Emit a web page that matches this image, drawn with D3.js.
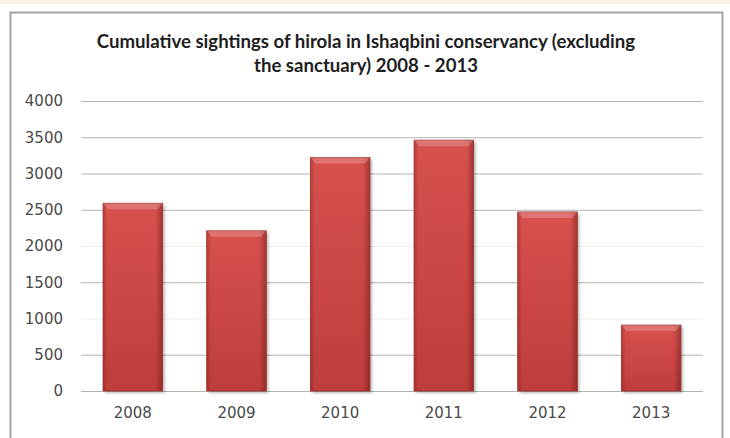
<!DOCTYPE html>
<html>
<head>
<meta charset="utf-8">
<script src="https://cdn.jsdelivr.net/npm/d3@7"></script>
<style>
  html, body { margin: 0; padding: 0; background: #ffffff; }
  svg { display: block; }
</style>
</head>
<body>
<div id="chart"></div>
<script>
const years = ["2008", "2009", "2010", "2011", "2012", "2013"];
const sightings = [2590, 2210, 3220, 3460, 2470, 910];
const yTicks = [0, 500, 1000, 1500, 2000, 2500, 3000, 3500, 4000];
const titleLines = [
  "Cumulative sightings of hirola in Ishaqbini conservancy (excluding",
  "the sanctuary) 2008 - 2013",
];

const width = 730;
const height = 438;
const plotLeft = 81;
const plotRight = 703;
const plotTop = 101;
const plotBottom = 391;
const gridColor = "#b4b4b4";
const labelColor = "#4a4a4a";
const bevel = 5;

const svg = d3
  .select("#chart")
  .append("svg")
  .attr("width", width)
  .attr("height", height);

const defs = svg.append("defs");

const bodyGrad = defs
  .append("linearGradient")
  .attr("id", "bar-body")
  .attr("x1", "0%")
  .attr("y1", "0%")
  .attr("x2", "0%")
  .attr("y2", "100%");
bodyGrad.append("stop").attr("offset", "0%").attr("stop-color", "#de5450");
bodyGrad.append("stop").attr("offset", "100%").attr("stop-color", "#c3403d");

const edgeGrad = defs
  .append("linearGradient")
  .attr("id", "bar-edge")
  .attr("x1", "0%")
  .attr("y1", "0%")
  .attr("x2", "100%")
  .attr("y2", "0%");
[
  { offset: "0%", opacity: 0.35 },
  { offset: "7%", opacity: 0.05 },
  { offset: "88%", opacity: 0.05 },
  { offset: "100%", opacity: 0.45 },
].forEach((s) =>
  edgeGrad
    .append("stop")
    .attr("offset", s.offset)
    .attr("stop-color", "#5a1010")
    .attr("stop-opacity", s.opacity)
);

const shadow = defs
  .append("filter")
  .attr("id", "bar-shadow")
  .attr("x", "-20%")
  .attr("y", "-20%")
  .attr("width", "140%")
  .attr("height", "140%");
shadow.append("feGaussianBlur").attr("stdDeviation", 1.6);

// page strip + frame
svg
  .append("rect")
  .attr("x", 0)
  .attr("y", 0)
  .attr("width", width)
  .attr("height", 4)
  .attr("fill", "#f3f2e3");

svg
  .append("rect")
  .attr("x", 10.5)
  .attr("y", 12.5)
  .attr("width", 712)
  .attr("height", 440)
  .attr("fill", "#ffffff")
  .attr("stroke", "#a2a2a2")
  .attr("stroke-width", 2);

// title
svg
  .append("g")
  .selectAll("text")
  .data(titleLines)
  .enter()
  .append("text")
  .attr("x", 366)
  .attr("y", (d, i) => 48 + i * 24)
  .attr("text-anchor", "middle")
  .attr("font-family", "Lato, 'Open Sans', sans-serif")
  .attr("font-size", 18.6)
  .attr("font-weight", "bold")
  .attr("fill", "#1e1e1e")
  .text((d) => d);

const xScale = d3
  .scaleBand()
  .domain(years)
  .range([plotLeft, plotRight])
  .paddingInner(0.425)
  .paddingOuter(0.2125);

const yScale = d3
  .scaleLinear()
  .domain([0, 4000])
  .range([plotBottom, plotTop]);

// gridlines via axis
const yAxis = svg
  .append("g")
  .attr("transform", `translate(${plotLeft}, 0)`)
  .call(
    d3
      .axisLeft(yScale)
      .tickValues(yTicks)
      .tickFormat(d3.format("d"))
      .tickSize(-(plotRight - plotLeft))
      .tickSizeOuter(0)
      .tickPadding(18)
  );

yAxis.select(".domain").remove();
yAxis
  .selectAll(".tick line")
  .attr("stroke", (d) => (d === 1000 || d === 2000 ? "#ededed" : gridColor))
  .attr("stroke-width", 1.2);
yAxis
  .selectAll(".tick text")
  .attr("font-family", "'DejaVu Sans', sans-serif")
  .attr("font-size", 15)
  .attr("fill", labelColor);

// bars
const bars = svg
  .append("g")
  .selectAll(".bar")
  .data(years.map((year, i) => ({ year, value: sightings[i] })))
  .enter()
  .append("g")
  .attr("class", "bar");

bars
  .append("rect")
  .attr("x", (d) => xScale(d.year) + 2)
  .attr("y", (d) => yScale(d.value) + 2)
  .attr("width", xScale.bandwidth())
  .attr("height", (d) => plotBottom - yScale(d.value))
  .attr("fill", "#000")
  .attr("opacity", 0.28)
  .attr("filter", "url(#bar-shadow)");

bars
  .append("rect")
  .attr("x", (d) => xScale(d.year))
  .attr("y", (d) => yScale(d.value))
  .attr("width", xScale.bandwidth())
  .attr("height", (d) => plotBottom - yScale(d.value))
  .attr("fill", "url(#bar-body)");

bars
  .append("rect")
  .attr("x", (d) => xScale(d.year))
  .attr("y", (d) => yScale(d.value))
  .attr("width", xScale.bandwidth())
  .attr("height", (d) => plotBottom - yScale(d.value))
  .attr("fill", "url(#bar-edge)")
  .attr("stroke", "#9e3431")
  .attr("stroke-width", 0.8);

bars
  .append("path")
  .attr("d", (d) => {
    const x0 = xScale(d.year);
    const x1 = x0 + xScale.bandwidth();
    const y0 = yScale(d.value);
    return `M${x0},${y0}L${x1},${y0}L${x1 - bevel},${y0 + bevel + 1}L${x0 + bevel},${y0 + bevel + 1}Z`;
  })
  .attr("fill", "#ffffff")
  .attr("opacity", 0.2);

// x labels
const xAxis = svg
  .append("g")
  .attr("transform", `translate(0, ${plotBottom})`)
  .call(d3.axisBottom(xScale).tickSize(0).tickPadding(16));

xAxis.select(".domain").remove();
xAxis
  .selectAll(".tick text")
  .attr("font-family", "'DejaVu Sans', sans-serif")
  .attr("font-size", 15)
  .attr("fill", labelColor);
</script>
</body>
</html>
